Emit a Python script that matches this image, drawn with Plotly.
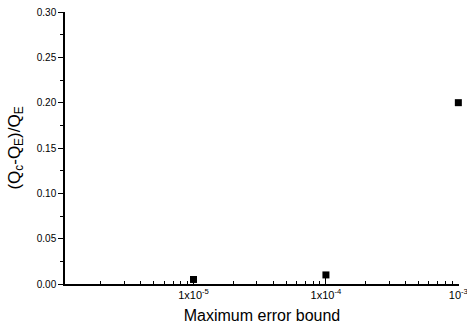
import plotly.graph_objects as go
import math

error_bound = [1e-5, 1e-4, 1e-3]
rel_diff = [0.005, 0.010, 0.200]

x_tick_vals = [1e-5, 1e-4, 1e-3]
x_tick_text = ["1x10<sup>-5</sup>", "1x10<sup>-4</sup>", "10<sup>-3</sup>"]
y_tick_vals = [0.0, 0.05, 0.10, 0.15, 0.20, 0.25, 0.30]
y_tick_text = ["0.00", "0.05", "0.10", "0.15", "0.20", "0.25", "0.30"]

fig = go.Figure()
fig.add_trace(go.Scatter(
    x=error_bound, y=rel_diff, mode="markers",
    marker=dict(symbol="square", size=7, color="black"),
    cliponaxis=False, showlegend=False,
))

fig.update_layout(
    width=467, height=331,
    margin=dict(l=65, r=8, t=12, b=47, autoexpand=False),
    paper_bgcolor="white", plot_bgcolor="white",
    font=dict(family="Liberation Sans, Arial, sans-serif", color="black", size=10),
)
fig.update_xaxes(
    type="log", range=[math.log10(1.07e-6), -2.995],
    tickvals=x_tick_vals, ticktext=x_tick_text,
    ticklabeloverflow="allow", automargin=False,
    ticks="inside", ticklen=6, tickwidth=1, tickcolor="black",
    minor=dict(ticks="inside", ticklen=3, tickwidth=1, tickcolor="black", dtick="D1"),
    showline=True, linecolor="black", linewidth=1.5,
    showgrid=False, zeroline=False,
    tickfont=dict(size=11),
    title=dict(text="Maximum error bound", font=dict(size=16), standoff=10),
)
fig.update_yaxes(
    range=[0, 0.30], automargin=False,
    tickvals=y_tick_vals, ticktext=y_tick_text,
    ticks="outside", ticklen=5, tickwidth=1, tickcolor="black",
    minor=dict(ticks="outside", ticklen=3, tickwidth=1, tickcolor="black", dtick=0.025, tick0=0),
    showline=True, linecolor="black", linewidth=1.5,
    showgrid=False, zeroline=False,
    tickfont=dict(size=10),
    title=dict(text="(Q<sub>c</sub>-Q<sub>E</sub>)/Q<sub>E</sub>", font=dict(size=17), standoff=12),
)

fig.write_html("out.html")
